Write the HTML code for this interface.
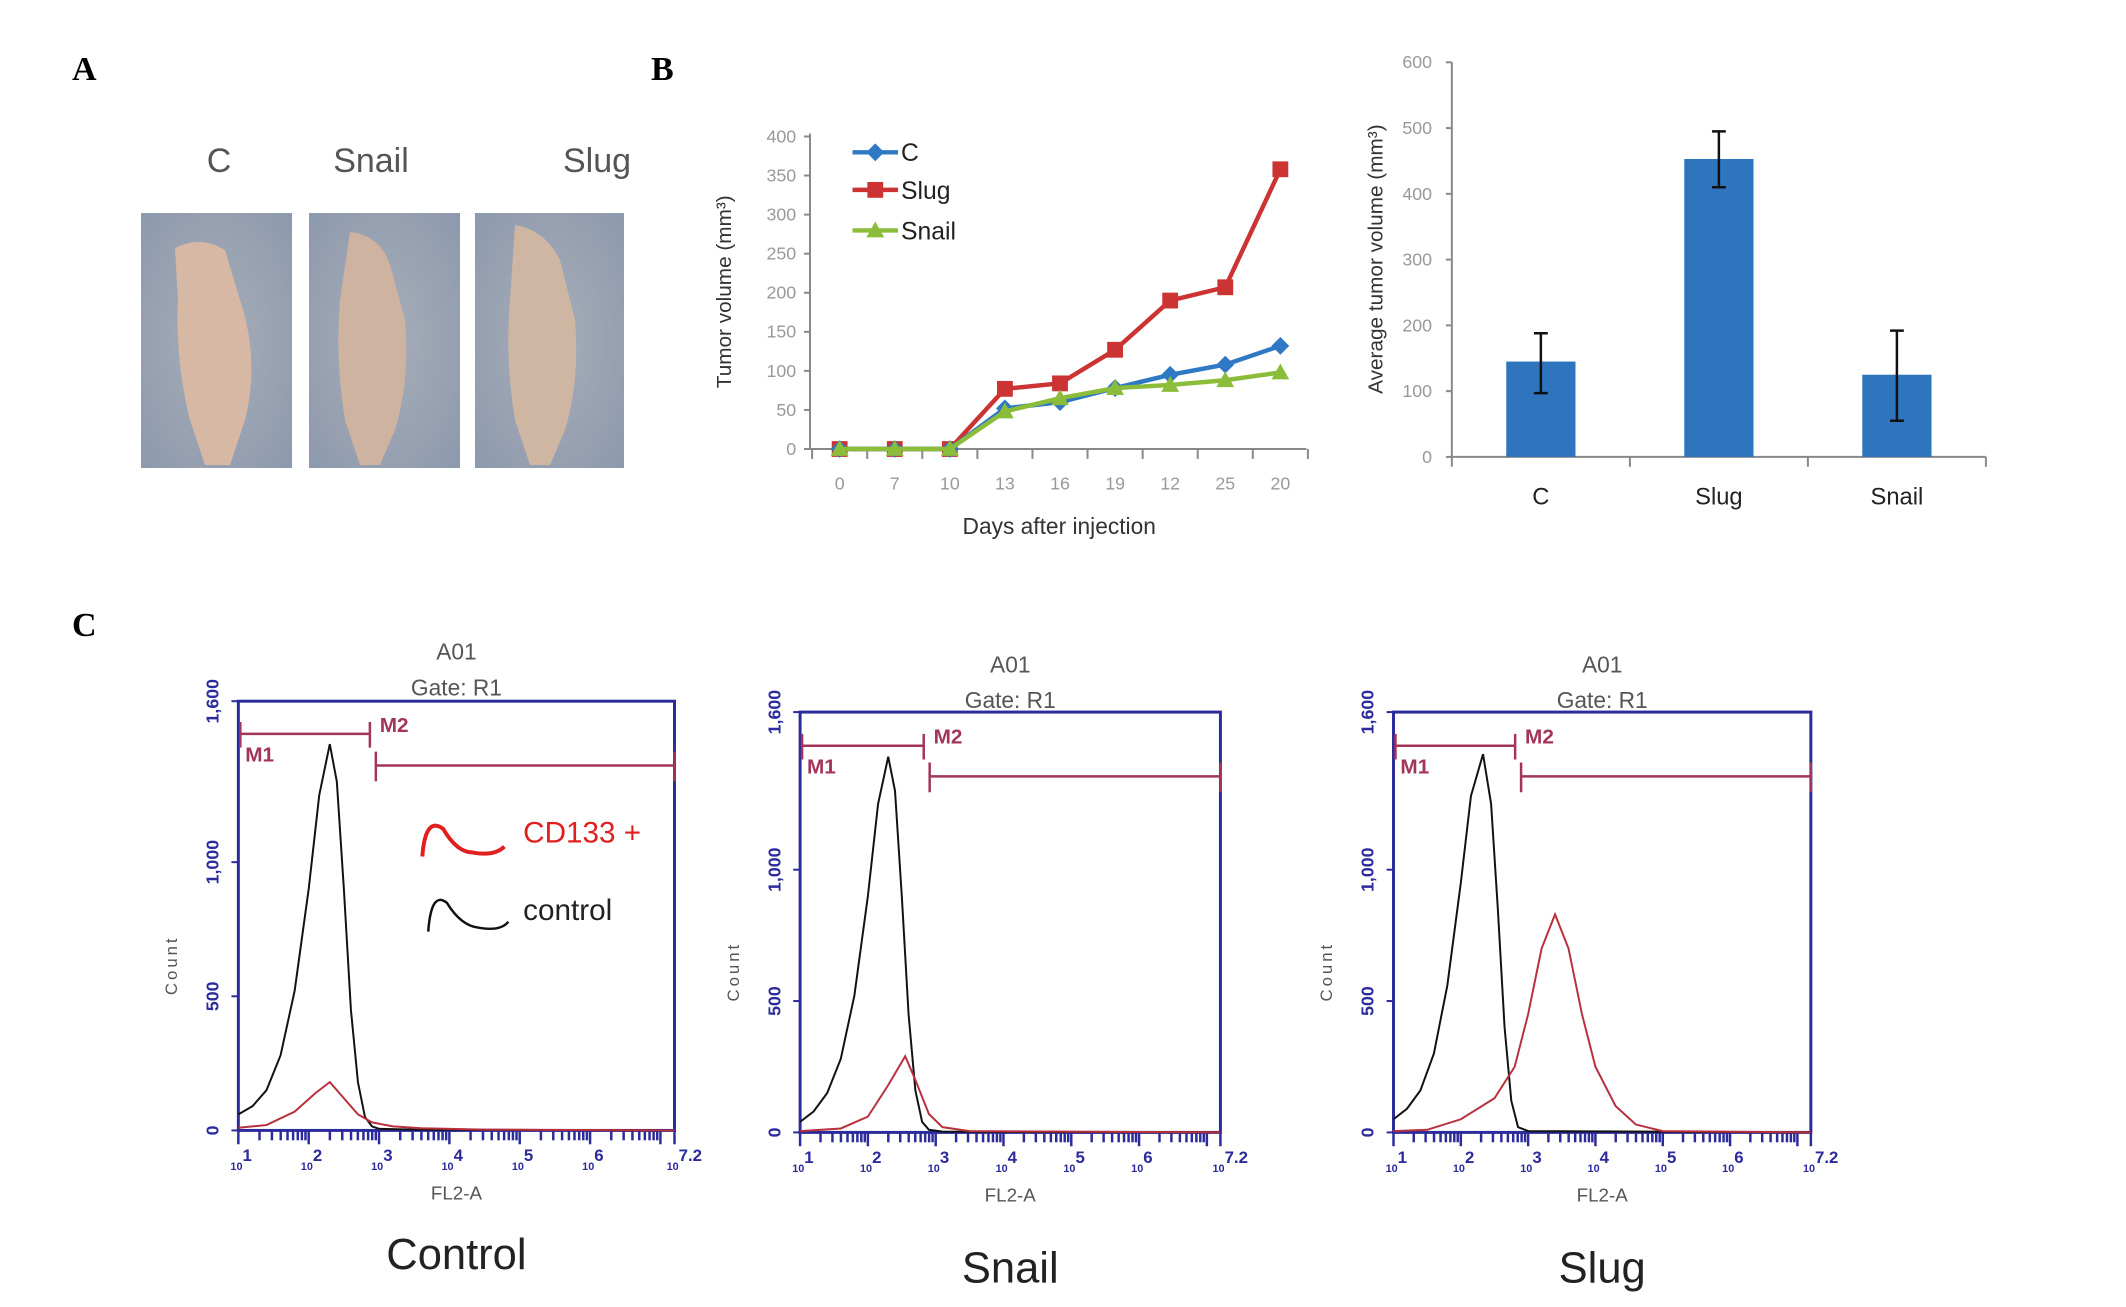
<!DOCTYPE html>
<html><head><meta charset="utf-8"><style>
html,body{margin:0;padding:0;background:#fff;overflow:hidden;}
svg{display:block;font-family:"Liberation Sans",sans-serif;}
</style></head><body>
<svg id="fig" width="2126" height="1307" viewBox="0 0 2126 1307" xmlns="http://www.w3.org/2000/svg">
<defs>
<radialGradient id="bgA" cx="50%" cy="50%" r="70%"><stop offset="0" stop-color="#a8aeb8"/><stop offset="1" stop-color="#8d99ad"/></radialGradient>
</defs>
<text x="72" y="80" font-family="Liberation Serif,serif" font-weight="bold" font-size="34">A</text>
<text x="651" y="80" font-family="Liberation Serif,serif" font-weight="bold" font-size="34">B</text>
<text x="72" y="636" font-family="Liberation Serif,serif" font-weight="bold" font-size="34">C</text>

<g font-size="34" fill="#555" text-anchor="middle">
<text x="219" y="172">C</text>
<text x="371" y="172">Snail</text>
<text x="597" y="172">Slug</text>
<g><rect x="141" y="213" width="151" height="255" fill="url(#bgA)"/><path d="M175 248 Q200 235 225 250 L240 300 Q260 360 245 420 L230 465 L205 465 L190 420 Q175 360 178 300 Z" fill="#d6b8a4"/></g>
<g><rect x="309" y="213" width="151" height="255" fill="url(#bgA)"/><path d="M350 232 Q380 235 390 265 L405 320 Q410 380 395 430 L380 465 L360 465 L345 420 Q335 360 340 300 Z" fill="#cdb3a0"/></g>
<g><rect x="475" y="213" width="149" height="255" fill="url(#bgA)"/><path d="M515 225 Q545 230 560 260 L575 320 Q580 380 565 430 L550 465 L530 465 L515 420 Q505 360 510 300 Z" fill="#cfb6a2"/></g>
</g>
<g transform="scale(0.989)">
<g id="lineChart"></g>
<g id="barChart"></g>
<g id="flow"></g>
</g>
</svg>
<script>
const NS="http://www.w3.org/2000/svg";
function mk(p,t,a,txt){const e=document.createElementNS(NS,t);for(const k in a)e.setAttribute(k,a[k]);if(txt!==undefined)e.textContent=txt;p.appendChild(e);return e;}

// ---- Line chart data
const days=["0","7","10","13","16","19","12","25","20"];
const seriesC=[0,0,0,52,60,78,95,108,132];
const seriesSlug=[0,0,0,77,84,127,190,207,358];
const seriesSnail=[0,0,0,48,65,78,82,88,98];
const lineTicks=[0,50,100,150,200,250,300,350,400];

// ---- Bar chart data
const barCats=["C","Slug","Snail"];
const barVals=[145,453,125];
const barLow=[97,410,55];
const barHigh=[188,495,192];
const barTicks=[0,100,200,300,400,500,600];

// ---- Flow data: [log10 FL2, count]
const ctrlBlack=[[1,60],[1.2,90],[1.4,150],[1.6,280],[1.8,520],[2.0,900],[2.15,1250],[2.3,1440],[2.4,1300],[2.5,900],[2.6,450],[2.7,180],[2.8,50],[2.9,15],[3.0,6],[3.5,3],[7.2,0]];
const ctrlRed=[[1,10],[1.4,20],[1.8,70],[2.1,140],[2.3,180],[2.5,120],[2.7,60],[2.9,30],[3.2,15],[3.6,8],[4.5,3],[7.2,0]];
const snailBlack=[[1,40],[1.2,80],[1.4,150],[1.6,280],[1.8,520],[2.0,900],[2.15,1250],[2.3,1430],[2.4,1300],[2.5,900],[2.6,450],[2.7,160],[2.8,40],[2.9,10],[3.1,3],[7.2,0]];
const snailRed=[[1,5],[1.6,15],[2.0,60],[2.3,180],[2.55,290],[2.7,200],[2.9,70],[3.1,20],[3.5,5],[7.2,0]];
const slugBlack=[[1,50],[1.2,90],[1.4,160],[1.6,300],[1.8,560],[2.0,950],[2.15,1280],[2.33,1440],[2.45,1250],[2.55,850],[2.65,400],[2.75,120],[2.85,20],[3.0,5],[7.2,0]];
const slugRed=[[1,5],[1.5,10],[2.0,50],[2.5,130],[2.8,250],[3.0,450],[3.2,700],[3.4,830],[3.6,700],[3.8,450],[4.0,250],[4.3,100],[4.6,30],[5.0,5],[7.2,0]];
const countTicks=[0,500,1000,1600];
const countTickLabels=["0","500","1,000","1,600"];
const decades=[1,2,3,4,5,6,7.2];
const decadeLabels=["1","2","3","4","5","6","7.2"];

// ---------- Line chart
(function(){
 const g=document.getElementById('lineChart');
 const xa=819,x0=849,dx=55.7,yb=454,yt=138;
 const X=i=>x0+i*dx, Y=v=>yb-(v/400)*(yb-yt);
 let e=mk(g,'line',{x1:xa,y1:yt-3,x2:xa,y2:yb,stroke:'#888','stroke-width':2});
 
 e=mk(g,'line',{x1:xa,y1:yb,x2:1321,y2:yb,stroke:'#888','stroke-width':2});
 
 lineTicks.forEach(t=>{mk(g,'line',{x1:xa-6,y1:Y(t),x2:xa,y2:Y(t),stroke:'#888','stroke-width':2});
  const tl=mk(g,'text',{x:xa-14,y:Y(t)+6,'text-anchor':'end','font-size':18,fill:'#999'},String(t));
  });
 days.forEach((d,i)=>{mk(g,'line',{x1:X(i)+dx/2,y1:yb,x2:X(i)+dx/2,y2:yb+10,stroke:'#888','stroke-width':2});
  const tl=mk(g,'text',{x:X(i),y:495,'text-anchor':'middle','font-size':18,fill:'#999'},d);
  });
 mk(g,'line',{x1:X(0)-dx/2,y1:yb,x2:X(0)-dx/2,y2:yb+10,stroke:'#888','stroke-width':2});
 let t=mk(g,'text',{x:1071,y:540,'text-anchor':'middle','font-size':23,fill:'#333'},'Days after injection');
 
 t=mk(g,'text',{x:0,y:0,'text-anchor':'middle','font-size':21,fill:'#333',transform:'translate(739,295) rotate(-90)'},'Tumor volume (mm³)');
 
 const defs=[[seriesSlug,'#cc3333','sq','series-slug'],[seriesC,'#2f78c4','dia','series-c'],[seriesSnail,'#8cbd3a','tri','series-snail']];
 defs.forEach(([s,c,m,n])=>{
  const pl=mk(g,'polyline',{points:s.map((v,i)=>X(i)+','+Y(v)).join(' '),fill:'none',stroke:c,'stroke-width':4.5});
  
  s.forEach((v,i)=>{let mm;const x=X(i),y=Y(v);
   if(m==='sq')mm=mk(g,'rect',{x:x-8,y:y-8,width:16,height:16,fill:c});
   else if(m==='dia')mm=mk(g,'polygon',{points:`${x},${y-9} ${x+9},${y} ${x},${y+9} ${x-9},${y}`,fill:c});
   else mm=mk(g,'polygon',{points:`${x},${y-9} ${x+9},${y+7} ${x-9},${y+7}`,fill:c});
   });
 });
 const leg=[['C','#2f78c4','dia',154],['Slug','#cc3333','sq',192],['Snail','#8cbd3a','tri',233]];
 leg.forEach(([l,c,m,y])=>{mk(g,'line',{x1:862,y1:y,x2:908,y2:y,stroke:c,'stroke-width':4.5});
  const x=885; let mm;
  if(m==='sq')mm=mk(g,'rect',{x:x-8,y:y-8,width:16,height:16,fill:c});
  else if(m==='dia')mm=mk(g,'polygon',{points:`${x},${y-9} ${x+9},${y} ${x},${y+9} ${x-9},${y}`,fill:c});
  else mm=mk(g,'polygon',{points:`${x},${y-9} ${x+9},${y+7} ${x-9},${y+7}`,fill:c});
  const tx=mk(g,'text',{x:911,y:y+9,'font-size':25,fill:'#222'},l);
  });
})();

// ---------- Bar chart
(function(){
 const g=document.getElementById('barChart');
 const xa=1468,xe=2008,yb=462,yt=63;
 const Y=v=>yb-(v/600)*(yb-yt);
 const cw=(xe-xa)/3;
 mk(g,'line',{x1:xa,y1:yt,x2:xa,y2:yb+10,stroke:'#888','stroke-width':2});
 mk(g,'line',{x1:xa,y1:yb,x2:xe,y2:yb,stroke:'#888','stroke-width':2});
 barTicks.forEach(t=>{mk(g,'line',{x1:xa-6,y1:Y(t),x2:xa,y2:Y(t),stroke:'#888','stroke-width':2});
  const tl=mk(g,'text',{x:xa-20,y:Y(t)+6,'text-anchor':'end','font-size':18,fill:'#999'},String(t));
  });
 for(let i=1;i<=3;i++)mk(g,'line',{x1:xa+i*cw,y1:yb,x2:xa+i*cw,y2:yb+10,stroke:'#888','stroke-width':2});
 barCats.forEach((c,i)=>{const cx=xa+cw*(i+0.5);
  const b=mk(g,'rect',{x:cx-35,y:Y(barVals[i]),width:70,height:yb-Y(barVals[i]),fill:'#2e75bd'});
  
  const eb=mk(g,'path',{d:`M${cx},${Y(barLow[i])}V${Y(barHigh[i])}M${cx-7},${Y(barLow[i])}H${cx+7}M${cx-7},${Y(barHigh[i])}H${cx+7}`,stroke:'#111','stroke-width':2.5,fill:'none'});
  
  const tl=mk(g,'text',{x:cx,y:510,'text-anchor':'middle','font-size':24,fill:'#222'},c);
  });
 const t=mk(g,'text',{x:0,y:0,'text-anchor':'middle','font-size':21,fill:'#333',transform:'translate(1398,262) rotate(-90)'},'Average tumor volume (mm³)');
 
})();

// ---------- Flow panels
function flowPanel(id,L,R,T,B,black,red,title,titleY,a01Y,gateY,m1y,m2y,m2x,showLegend){
 const g=document.getElementById('flow');
 const pg=mk(g,'g',{});
 
 const X=v=>L+(v-1)/6.2*(R-L), Y=c=>B-c/1600*(B-T);
 const cx=(L+R)/2;
 mk(pg,'text',{x:cx,y:a01Y,'text-anchor':'middle','font-size':23,fill:'#555'},'A01');
 mk(pg,'text',{x:cx,y:gateY,'text-anchor':'middle','font-size':23,fill:'#555'},'Gate: R1');
 mk(pg,'rect',{x:L,y:T,width:R-L,height:B-T,fill:'none',stroke:'#2b2b9c','stroke-width':3});
 countTicks.forEach((c,i)=>{mk(pg,'line',{x1:L-7,y1:Y(c),x2:L,y2:Y(c),stroke:'#2b2b9c','stroke-width':2});
  const tl=mk(pg,'text',{x:0,y:0,'text-anchor':'middle','font-size':18,'font-weight':'bold',fill:'#2b2b9c',transform:`translate(${L-20},${Y(c)}) rotate(-90)`},countTickLabels[i]);
  });
 const cl=mk(pg,'text',{x:0,y:0,'text-anchor':'middle','font-size':17,fill:'#555','letter-spacing':3,transform:`translate(${L-62},${(T+B)/2+50}) rotate(-90)`},'Count');
 
 for(let d=1;d<7.2;d++){for(let k=1;k<10;k++){const lv=d+Math.log10(k);if(lv>7.2)break;
   mk(pg,'line',{x1:X(lv),y1:B,x2:X(lv),y2:B+(k===1?14:10),stroke:'#2b2b9c','stroke-width':2.5});}}
 mk(pg,'line',{x1:R,y1:B,x2:R,y2:B+14,stroke:'#2b2b9c','stroke-width':2.5});
 decades.forEach((d,i)=>{const tl=mk(pg,'text',{x:X(d)-8,y:B+40,'font-size':11,'font-weight':'bold',fill:'#2b2b9c'},'10');
  mk(tl,'tspan',{dy:-9,'font-size':17},decadeLabels[i]);
  });
 const xl=mk(pg,'text',{x:cx,y:B+70,'text-anchor':'middle','font-size':19,fill:'#555'},'FL2-A');
 
 const mc='#a3345a';
 const m=mk(pg,'path',{d:`M${L+2},${m1y}H${m2x-6}M${L+2},${m1y-12}V${m1y+14}M${m2x-6},${m1y-12}V${m1y+14}M${m2x},${m2y}H${R}M${m2x},${m2y-14}V${m2y+16}M${R},${m2y-14}V${m2y+16}`,stroke:mc,'stroke-width':2.5,fill:'none'});
 
 mk(pg,'text',{x:L+7,y:m1y+28,'font-size':21,'font-weight':'bold',fill:mc},'M1');
 mk(pg,'text',{x:m2x+4,y:m1y-2,'font-size':21,'font-weight':'bold',fill:mc},'M2');
 const pb=mk(pg,'polyline',{points:black.map(p=>X(p[0])+','+Y(p[1])).join(' '),fill:'none',stroke:'#111','stroke-width':2});
 
 const pr=mk(pg,'polyline',{points:red.map(p=>X(p[0])+','+Y(p[1])).join(' '),fill:'none',stroke:'#b8303c','stroke-width':2});
 
 const tt=mk(pg,'text',{x:cx,y:titleY,'text-anchor':'middle','font-size':44,fill:'#222'},title);
 
 if(showLegend){
  mk(pg,'path',{d:'M427,866 Q430,825 448,838 Q462,862 478,862 Q500,866 510,856',stroke:'#e02020','stroke-width':4,fill:'none'});
  const l1=mk(pg,'text',{x:529,y:852,'font-size':30,fill:'#e02020'},'CD133 +');
  
  mk(pg,'path',{d:'M433,942 Q436,900 452,913 Q466,936 484,938 Q506,942 514,932',stroke:'#111','stroke-width':2.5,fill:'none'});
  const l2=mk(pg,'text',{x:529,y:930,'font-size':30,fill:'#222'},'control');
  
 }
}
flowPanel('control',241,682,709,1143,ctrlBlack,ctrlRed,'Control',1283,667,703,742,774,380,true);
flowPanel('snail',809,1234,720,1145,snailBlack,snailRed,'Snail',1297,680,716,754,785,940,false);
flowPanel('slug',1409,1831,720,1145,slugBlack,slugRed,'Slug',1297,680,716,754,785,1538,false);
</script>
</body></html>
